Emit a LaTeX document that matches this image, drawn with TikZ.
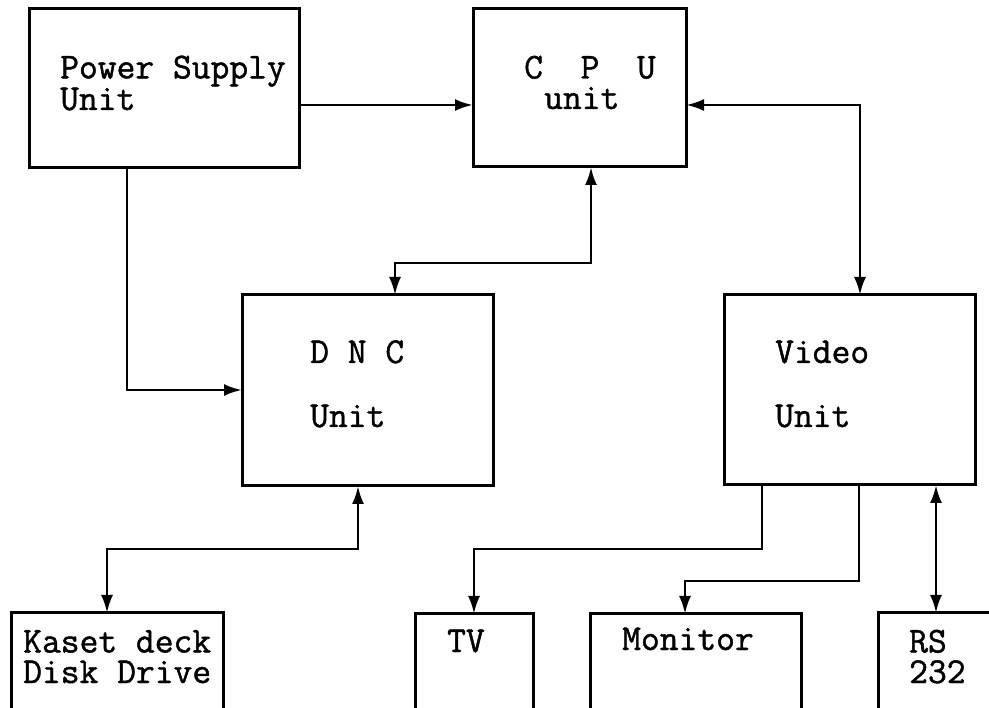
\documentclass[tikz,border=0pt]{standalone}
\usepackage{fontspec}
\newfontfamily\typefont{Latin Modern Mono}[FakeBold=1.2]
\usetikzlibrary{arrows.meta}
\tikzset{
  box/.style={draw, line width=3pt, rectangle, inner sep=0pt, outer sep=0pt, anchor=north west},
  lbl/.style={anchor=base west, inner sep=0pt, align=left, font=\fontsize{36.5}{30.5}\selectfont\typefont},
  conn/.style={line width=2.8pt},
  tip/.tip={Latex[length=18pt,width=12pt]},
}
\begin{document}
\begin{tikzpicture}[x=1pt,y=-1pt]
\clip (0,0) rectangle (989,708);
\fill[white] (0,0) rectangle (989,708);
% boxes
\node[box, minimum width=270pt, minimum height=159pt] (psu) at (29,9) {};
\node[box, minimum width=213pt, minimum height=158pt] (cpu) at (473,9) {};
\node[box, minimum width=251pt, minimum height=191pt] (dnc) at (242,295) {};
\node[box, minimum width=251pt, minimum height=190pt] (vid) at (724,295) {};
\node[box, minimum width=212pt, minimum height=120pt] (kas) at (11,613) {};
\node[box, minimum width=118pt, minimum height=120pt] (tv) at (415,614) {};
\node[box, minimum width=211pt, minimum height=120pt] (mon) at (590,614) {};
\node[box, minimum width=150pt, minimum height=120pt] (rs) at (878,613) {};
% texts (base anchor = baseline of the last line)
\node[lbl] (t1) at (60,110) {Power Supply\\Unit};
\node[lbl] (t3) at (524,109) {C\ \ P\ \ U\\\hspace*{20pt}unit};
\node[lbl] (t5) at (310,363) {D N C};
\node[lbl] (t6) at (310,427) {Unit};
\node[lbl] (t7) at (775,363) {Video};
\node[lbl] (t8) at (775,427) {Unit};
\node[lbl] (t9) at (23,683) {Kaset deck\\Disk Drive};
\node[lbl] (t11) at (447,652) {TV};
\node[lbl] (t12) at (622,650) {Monitor};
\node[lbl] (t13) at (909,683) {RS\\232};
% routing points
\coordinate (pc) at (0,105);
\coordinate (cv) at (860,105);
\coordinate (cd1) at (591,263);
\coordinate (cd2) at (395,263);
\coordinate (pd) at (127,390);
\coordinate (dk1) at (358,549);
\coordinate (dk2) at (107,549);
\coordinate (vt1) at (762,549);
\coordinate (vt2) at (474,549);
\coordinate (vm1) at (859,581);
\coordinate (vm2) at (685,581);
\coordinate (vr) at (936,0);
% connectors
\draw[conn, -{tip}] (psu.east |- pc) -- (cpu.west |- pc);
\draw[conn, {tip}-{tip}] (cpu.east |- cv) -- (cv) -- (vid.north -| cv);
\draw[conn, {tip}-{tip}] (cpu.south -| cd1) -- (cd1) -- (cd2) -- (dnc.north -| cd2);
\draw[conn, -{tip}] (psu.south -| pd) -- (pd) -- (dnc.west |- pd);
\draw[conn, {tip}-{tip}] (dnc.south -| dk1) -- (dk1) -- (dk2) -- (kas.north -| dk2);
\draw[conn, -{tip}] (vid.south -| vt1) -- (vt1) -- (vt2) -- (tv.north -| vt2);
\draw[conn, -{tip}] (vid.south -| vm1) -- (vm1) -- (vm2) -- (mon.north -| vm2);
\draw[conn, {tip}-{tip}] (vid.south -| vr) -- (rs.north -| vr);
\end{tikzpicture}
\end{document}
